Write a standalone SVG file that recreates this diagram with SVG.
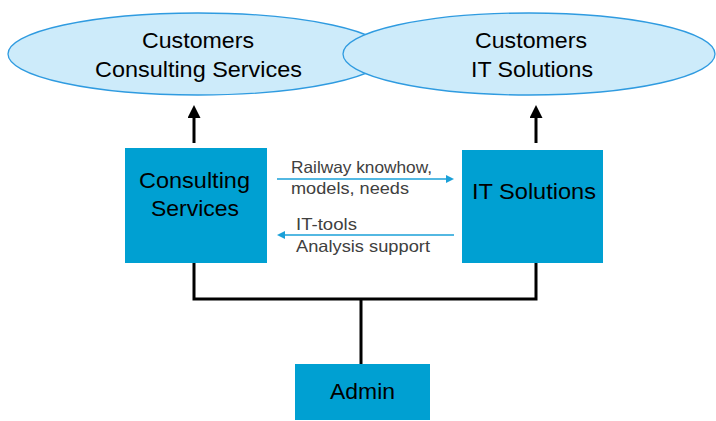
<svg xmlns="http://www.w3.org/2000/svg" width="716" height="421" viewBox="0 0 716 421">
<style>
.ell{fill:#CDEBFA;stroke:#2F9BE0;stroke-width:1.3}
.box{fill:#00A0D2}
.t{font-family:"Liberation Sans",Arial,sans-serif;fill:#000;font-size:22px}
.lbl{font-family:"Liberation Sans",Arial,sans-serif;fill:#404040;font-size:16.5px}
.blk{stroke:#000;stroke-width:3;fill:none}
.blu{stroke:#1AA0D8;stroke-width:1.5;fill:none}
</style>
<defs>
<marker id="ab" markerWidth="13" markerHeight="13" refX="0" refY="6.5" orient="auto" markerUnits="userSpaceOnUse" viewBox="0 0 13 13">
<path d="M0,0 L13,6.5 L0,13 z" fill="#000"/>
</marker>
<marker id="au" markerWidth="8" markerHeight="8" refX="0" refY="4" orient="auto" markerUnits="userSpaceOnUse" viewBox="0 0 8 8">
<path d="M0,0 L8,4 L0,8 z" fill="#1AA0D8"/>
</marker>
</defs>
<g id="cust-cs"><ellipse class="ell" cx="198" cy="54" rx="190" ry="41"/></g>
<g id="cust-it"><ellipse class="ell" cx="529" cy="54" rx="186" ry="41"/></g>
<g id="cust-cs-text">
<text class="t" x="142" y="48" textLength="112" lengthAdjust="spacingAndGlyphs">Customers</text>
<text class="t" x="95" y="77" textLength="207" lengthAdjust="spacingAndGlyphs">Consulting Services</text>
</g>
<g id="cust-it-text">
<text class="t" x="475" y="48" textLength="112" lengthAdjust="spacingAndGlyphs">Customers</text>
<text class="t" x="471" y="77" textLength="122" lengthAdjust="spacingAndGlyphs">IT Solutions</text>
</g>
<g id="consulting">
<rect class="box" x="125" y="148" width="142" height="115"/>
<text class="t" x="139" y="188" textLength="111" lengthAdjust="spacingAndGlyphs">Consulting</text>
<text class="t" x="151" y="216" textLength="88" lengthAdjust="spacingAndGlyphs">Services</text>
</g>
<g id="it">
<rect class="box" x="462" y="150" width="141" height="113"/>
<text class="t" x="472" y="199" textLength="124" lengthAdjust="spacingAndGlyphs">IT Solutions</text>
</g>
<g id="admin">
<rect class="box" x="295" y="364" width="135" height="56"/>
<text class="t" x="330" y="399" textLength="65" lengthAdjust="spacingAndGlyphs">Admin</text>
</g>
<g id="connectors">
<path class="blk" d="M194,143 V118" marker-end="url(#ab)"/>
<path class="blk" d="M536,143 V118" marker-end="url(#ab)"/>
<path class="blk" d="M194,263 V299 H536 V263 M361,299 V364"/>
<path class="blu" d="M277,179 H446" marker-end="url(#au)"/>
<path class="blu" d="M454,235 H285" marker-end="url(#au)"/>
<text class="lbl" x="291" y="173" textLength="141" lengthAdjust="spacingAndGlyphs">Railway knowhow,</text>
<text class="lbl" x="291" y="194" textLength="118" lengthAdjust="spacingAndGlyphs">models, needs</text>
<text class="lbl" x="296" y="230" textLength="61" lengthAdjust="spacingAndGlyphs">IT-tools</text>
<text class="lbl" x="296" y="252" textLength="134" lengthAdjust="spacingAndGlyphs">Analysis support</text>
</g>
</svg>
